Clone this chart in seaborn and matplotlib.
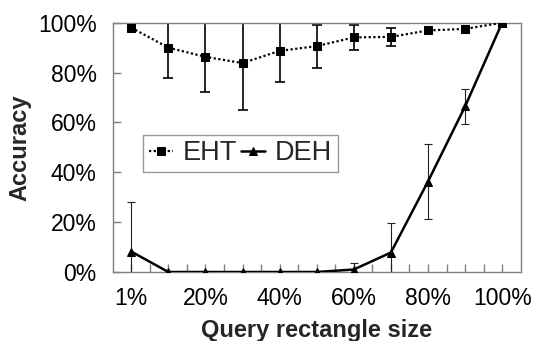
import matplotlib
matplotlib.use('Agg')
import matplotlib.pyplot as plt
import seaborn as sns
import pandas as pd
import numpy as np

# x-axis category slots (only every 4th is labelled)
axis_categories = ['1%', '5%', '10%', '15%', '20%', '25%', '30%', '35%', '40%', '45%', '50%',
                   '55%', '60%', '65%', '70%', '75%', '80%', '85%', '90%', '95%', '100%']
tick_labels = ['1%', '20%', '40%', '60%', '80%', '100%']

# data series
query_sizes = ['1%', '10%', '20%', '30%', '40%', '50%', '60%', '70%', '80%', '90%', '100%']
eht_acc = [98.0, 90.0, 86.3, 83.8, 88.7, 90.6, 94.1, 94.3, 96.9, 97.5, 100.0]
eht_err = [0.0, 12.0, 14.0, 19.0, 12.3, 8.6, 5.0, 3.6, 0.0, 0.0, 0.0]
deh_acc = [8.2, 0.0, 0.0, 0.0, 0.0, 0.0, 1.0, 7.8, 36.3, 66.4, 100.0]
deh_err = [20.0, 0.0, 0.0, 0.0, 0.0, 0.0, 2.5, 12.0, 15.0, 7.0, 0.0]

sns.set_style('ticks')
plt.rcParams['font.family'] = ['Liberation Sans', 'DejaVu Sans']

pos = [axis_categories.index(s) for s in query_sizes]
df = pd.DataFrame({'pos': pos, 'size': query_sizes,
                   'eht': eht_acc, 'eht_err': eht_err,
                   'deh': deh_acc, 'deh_err': deh_err})

fig = plt.figure(figsize=(5.33, 3.41), dpi=100)
ax = fig.add_axes([112.7 / 533, 1 - 272 / 341, 408 / 533, 249.3 / 341])

# error bars
m = df['eht_err'] > 0
ax.errorbar(df.loc[m, 'pos'], df.loc[m, 'eht'], yerr=df.loc[m, 'eht_err'], fmt='none',
            ecolor='black', elinewidth=1.2, capsize=3.8, capthick=1.2, zorder=2)
m = df['deh_err'] > 0
ax.errorbar(df.loc[m, 'pos'], df.loc[m, 'deh'], yerr=df.loc[m, 'deh_err'], fmt='none',
            ecolor='#222222', elinewidth=0.8, capsize=3.0, capthick=0.8, zorder=2)

sns.lineplot(data=df, x='pos', y='eht', ax=ax, color='black', marker='s', markersize=6.2,
             markeredgecolor='black', linewidth=1.6, linestyle=(0, (1, 1.1)), label='EHT', zorder=3)
sns.lineplot(data=df, x='pos', y='deh', ax=ax, color='black', marker='^', markersize=5.5,
             markeredgecolor='black', linewidth=1.8, linestyle='-', label='DEH', zorder=3)

ax.set_xlim(-1, 21)
ax.set_ylim(0, 100)
ax.set_xticks(range(len(axis_categories)))
ax.set_xticklabels([c if c in tick_labels else '' for c in axis_categories])
ax.set_yticks([0, 20, 40, 60, 80, 100])
ax.set_yticklabels(['0%', '20%', '40%', '60%', '80%', '100%'])

for sp in ax.spines.values():
    sp.set_visible(True)
    sp.set_color('#808080')
    sp.set_linewidth(1.0)
ax.tick_params(axis='both', direction='in', length=5.5, width=1.0, color='#808080',
               labelsize=16.5, labelcolor='black')
ax.tick_params(axis='y', pad=11.5)
ax.tick_params(axis='x', pad=11)

ax.set_xlabel('Query rectangle size', fontsize=17, fontweight='bold', labelpad=6)
ax.set_ylabel('Accuracy', fontsize=17, fontweight='bold', labelpad=5)

leg = ax.legend(ncol=2, loc='upper left', bbox_to_anchor=(0.075, 0.5495), frameon=True,
                fancybox=False, edgecolor='#808080', fontsize=19.5, handlelength=0.9,
                handletextpad=0.35, columnspacing=0.15, borderpad=0.2, borderaxespad=0)
leg.get_frame().set_linewidth(1.0)

fig.savefig('out.png', dpi=100)
